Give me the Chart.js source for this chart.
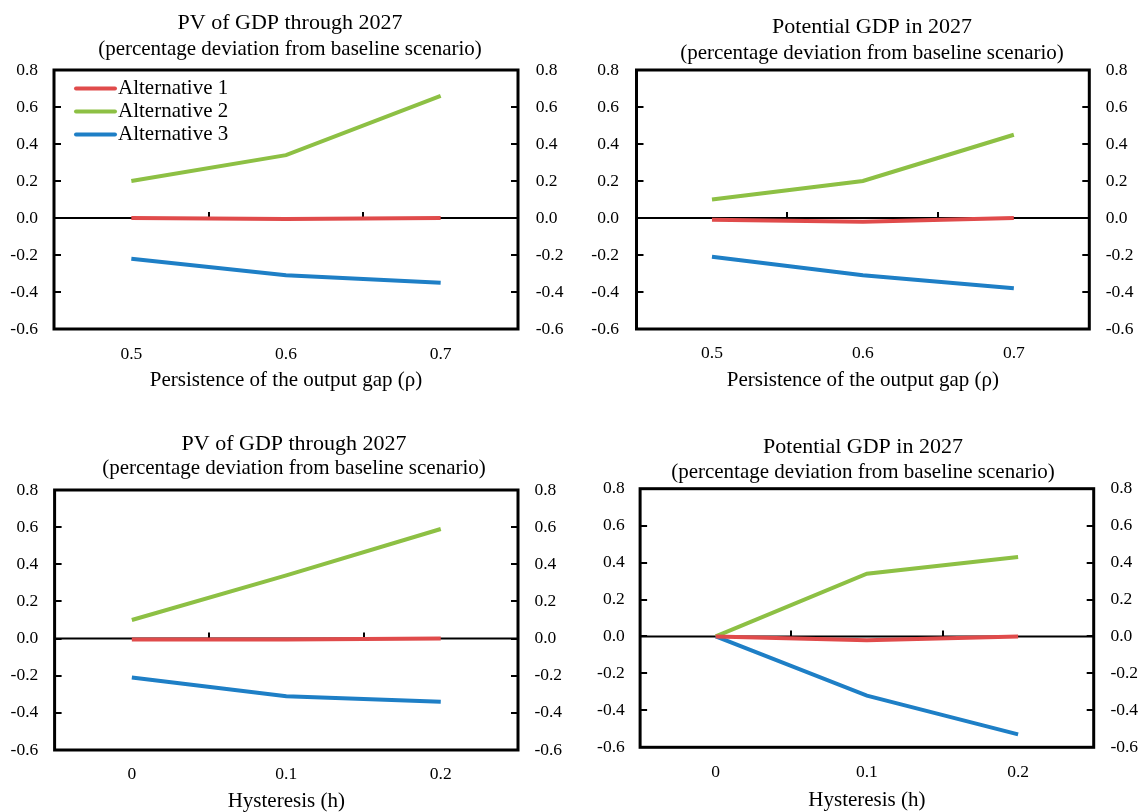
<!DOCTYPE html>
<html>
<head>
<meta charset="utf-8">
<script src="https://cdn.jsdelivr.net/npm/chart.js@4.4.1/dist/chart.umd.min.js"></script>
<style>
  body { margin: 0; background: #fff; overflow: hidden; }
  #wrap { position: relative; width: 1144px; height: 812px; overflow: hidden; }
  canvas { position: absolute; }
</style>
</head>
<body>
<div id="wrap"></div>
<script>
// categories
const persistenceLabels = ['0.5', '0.6', '0.7'];
const hysteresisLabels = ['0', '0.1', '0.2'];
const yTickValues = [-0.6, -0.4, -0.2, 0.0, 0.2, 0.4, 0.6, 0.8];
const seriesNames = ['Alternative 1', 'Alternative 2', 'Alternative 3'];

// PV of GDP through 2027, persistence
const pvPersistAlt1 = [0.00, -0.005, 0.00];
const pvPersistAlt2 = [0.20, 0.34, 0.66];
const pvPersistAlt3 = [-0.22, -0.31, -0.35];
// Potential GDP in 2027, persistence
const potPersistAlt1 = [-0.01, -0.02, 0.00];
const potPersistAlt2 = [0.10, 0.20, 0.45];
const potPersistAlt3 = [-0.21, -0.31, -0.38];
// PV of GDP through 2027, hysteresis
const pvHystAlt1 = [-0.005, -0.005, 0.00];
const pvHystAlt2 = [0.10, 0.34, 0.59];
const pvHystAlt3 = [-0.21, -0.31, -0.34];
// Potential GDP in 2027, hysteresis
const potHystAlt1 = [0.00, -0.02, 0.00];
const potHystAlt2 = [0.00, 0.34, 0.43];
const potHystAlt3 = [0.00, -0.32, -0.53];

const colors = ['#E04B4B', '#8DC044', '#1E7FC6'];
const serif = '"Liberation Serif", "Times New Roman", serif';
const subTitle = '(percentage deviation from baseline scenario)';

// box, zero line and the little tick marks
const framePlugin = {
    id: 'frame',
    beforeDatasetsDraw(chart) {
        const {ctx, chartArea: a, scales: {x, y}} = chart;
        const y0 = y.getPixelForValue(0);
        ctx.save();
        ctx.strokeStyle = '#000';
        ctx.lineWidth = 2;
        ctx.beginPath();
        ctx.moveTo(a.left, y0);
        ctx.lineTo(a.right, y0);
        for (let i = 0; i < x.ticks.length - 1; i++) {
            const xb = Math.round((x.getPixelForTick(i) + x.getPixelForTick(i + 1)) / 2);
            ctx.moveTo(xb, y0);
            ctx.lineTo(xb, y0 - 6);
        }
        y.ticks.forEach(function (t, i) {
            const py = Math.round(y.getPixelForTick(i));
            ctx.moveTo(a.left, py);
            ctx.lineTo(a.left + 7, py);
            ctx.moveTo(a.right - 7, py);
            ctx.lineTo(a.right, py);
        });
        ctx.stroke();
        ctx.lineWidth = 3;
        ctx.strokeRect(a.left, a.top, a.width, a.height);
        ctx.restore();
    }
};

// legend sitting inside the plot, top left
const insideLegend = {
    id: 'insideLegend',
    afterDatasetsDraw(chart, args, opts) {
        if (!opts.show) return;
        const {ctx, chartArea: a} = chart;
        ctx.save();
        ctx.font = '21px ' + serif;
        ctx.textBaseline = 'middle';
        chart.data.datasets.forEach(function (ds, i) {
            const yy = a.top + 18.5 + i * 23;
            ctx.strokeStyle = ds.borderColor;
            ctx.lineWidth = 4;
            ctx.lineCap = 'round';
            ctx.beginPath();
            ctx.moveTo(a.left + 22, yy);
            ctx.lineTo(a.left + 61, yy);
            ctx.stroke();
            ctx.fillStyle = '#000';
            ctx.fillText(ds.label, a.left + 64, yy);
        });
        ctx.restore();
    }
};

function makePanel(title, xTitle, labels, alt1, alt2, alt3, lay) {
    const cv = document.createElement('canvas');
    cv.width = lay.w;
    cv.height = lay.h;
    cv.style.left = lay.x + 'px';
    cv.style.top = lay.y + 'px';
    document.getElementById('wrap').appendChild(cv);

    const values = [alt1, alt2, alt3];
    const yTicks = function (pad) {
        return {color: '#000', font: {family: serif, size: 17.5}, padding: pad,
            callback: function (v) { return Number(v).toFixed(1); }};
    };
    const setTicks = function (s) { s.ticks = yTickValues.map(function (v) { return {value: v}; }); };

    new Chart(cv, {
        type: 'line',
        data: {
            labels: labels,
            datasets: values.map(function (v, i) {
                return {
                    label: seriesNames[i],
                    data: v,
                    borderColor: colors[i],
                    backgroundColor: colors[i],
                    borderWidth: 4,
                    pointRadius: 0,
                    tension: 0,
                    yAxisID: 'y'
                };
            })
        },
        options: {
            responsive: false,
            animation: false,
            devicePixelRatio: 1,
            layout: {padding: {left: 0, right: 0, top: 0, bottom: lay.pb}},
            plugins: {
                legend: {display: false},
                tooltip: {enabled: false},
                title: {
                    display: true,
                    text: title,
                    color: '#000',
                    font: {family: serif, size: 22, weight: 'normal', lineHeight: 1},
                    padding: {top: lay.tPt, bottom: 0}
                },
                subtitle: {
                    display: true,
                    text: subTitle,
                    color: '#000',
                    font: {family: serif, size: 21, weight: 'normal', lineHeight: 1},
                    padding: {top: lay.sPt, bottom: lay.sPb}
                },
                insideLegend: {show: !!lay.legend}
            },
            scales: {
                x: {
                    type: 'category',
                    offset: true,
                    grid: {display: false},
                    border: {display: false},
                    ticks: {color: '#000', font: {family: serif, size: 17.5}, padding: lay.xPad, maxRotation: 0, autoSkip: false},
                    title: {display: true, text: xTitle, color: '#000', font: {family: serif, size: 21}, padding: 0},
                    afterFit: function (s) { s.height = lay.xh; }
                },
                y: {
                    position: 'left',
                    min: -0.6,
                    max: 0.8,
                    grid: {display: false},
                    border: {display: false},
                    afterBuildTicks: setTicks,
                    ticks: yTicks(lay.lPad),
                    afterFit: function (s) { s.width = lay.wL; }
                },
                y2: {
                    position: 'right',
                    display: true,
                    min: -0.6,
                    max: 0.8,
                    grid: {display: false},
                    border: {display: false},
                    afterBuildTicks: setTicks,
                    ticks: yTicks(lay.rPad),
                    afterFit: function (s) { s.width = lay.wR; }
                }
            }
        },
        plugins: [framePlugin, insideLegend]
    });
}

makePanel('PV of GDP through 2027', 'Persistence of the output gap (\u03C1)', persistenceLabels,
    pvPersistAlt1, pvPersistAlt2, pvPersistAlt3,
    {x: 0, y: 0, w: 580, h: 406, wL: 54, wR: 62, lPad: 8, rPad: 9.7,
     tPt: 12, sPt: 4.5, sPb: 10.5, xPad: 6.5, xh: 64, pb: 13, legend: true});
makePanel('Potential GDP in 2027', 'Persistence of the output gap (\u03C1)', persistenceLabels,
    potPersistAlt1, potPersistAlt2, potPersistAlt3,
    {x: 586, y: 0, w: 572, h: 406, wL: 50.5, wR: 68.7, lPad: 9.5, rPad: 8.4,
     tPt: 16, sPt: 5, sPb: 6, xPad: 6, xh: 64, pb: 13});
makePanel('PV of GDP through 2027', 'Hysteresis (h)', hysteresisLabels,
    pvHystAlt1, pvHystAlt2, pvHystAlt3,
    {x: 0, y: 400, w: 588, h: 414, wL: 54.6, wR: 70, lPad: 8.3, rPad: 8.4,
     tPt: 33.5, sPt: 2.7, sPb: 10.8, xPad: 5.5, xh: 64, pb: 0});
makePanel('Potential GDP in 2027', 'Hysteresis (h)', hysteresisLabels,
    potHystAlt1, potHystAlt2, potHystAlt3,
    {x: 586, y: 400, w: 554, h: 414, wL: 54.1, wR: 46.3, lPad: 7.3, rPad: 8.7,
     tPt: 36.7, sPt: 3.6, sPb: 5.4, xPad: 6.7, xh: 65.7, pb: 1});
</script>
</body>
</html>
